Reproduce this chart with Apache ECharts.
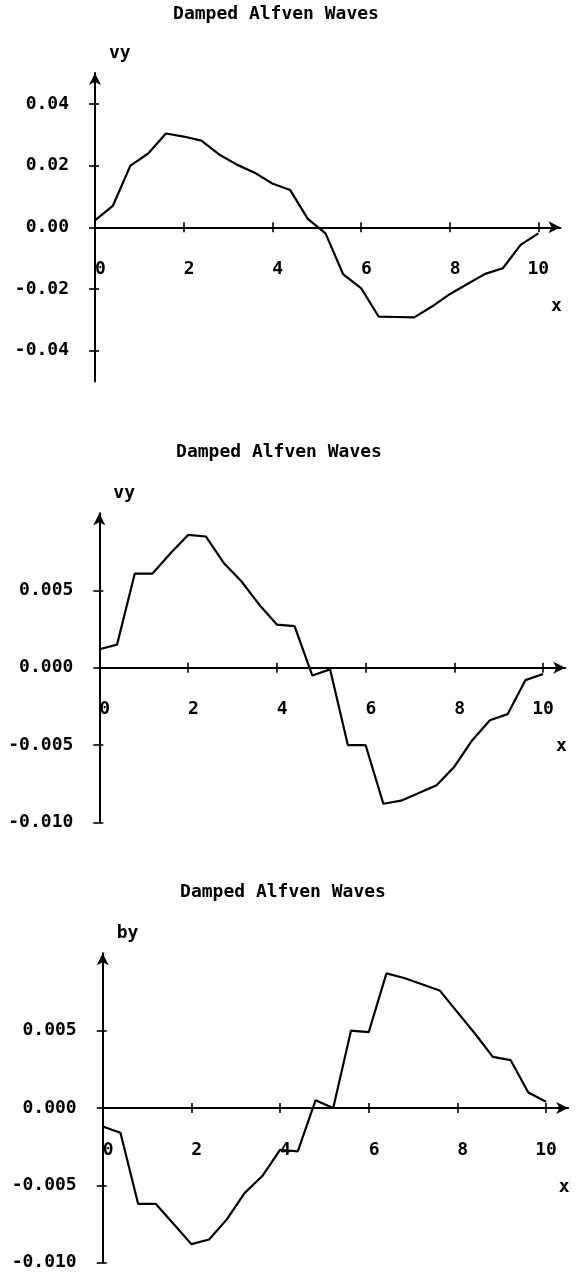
<!DOCTYPE html>
<html>
<head>
<meta charset="utf-8">
<script src="https://cdn.jsdelivr.net/npm/echarts@6/dist/echarts.min.js"></script>
<style>
html,body{margin:0;padding:0;background:#fff;}
#c{width:586px;height:1278px;}
</style>
</head>
<body>
<div id="c"></div>
<script>
// ---- data ----
const titleText = 'Damped Alfven Waves';
const xValues = [0, 0.4, 0.8, 1.2, 1.6, 2.0, 2.4, 2.8, 3.2, 3.6, 4.0, 4.4, 4.8, 5.2, 5.6, 6.0, 6.4, 6.8, 7.2, 7.6, 8.0, 8.4, 8.8, 9.2, 9.6, 10.0];
const vy1 = [0.0022, 0.0069, 0.0200, 0.0239, 0.0304, 0.0294, 0.0281, 0.0236, 0.0203, 0.0177, 0.0142, 0.0121, 0.0027, -0.0020, -0.0153, -0.0197, -0.0290, -0.0291, -0.0292, -0.0257, -0.0217, -0.0184, -0.0151, -0.0133, -0.0057, -0.0020];
const vy2 = [0.0012, 0.0015, 0.0061, 0.0061, 0.0074, 0.0086, 0.0085, 0.0068, 0.0056, 0.0041, 0.0028, 0.0027, -0.0005, -0.0001, -0.0050, -0.0050, -0.0088, -0.0086, -0.0081, -0.0076, -0.0064, -0.0047, -0.0034, -0.0030, -0.0008, -0.0004];
const by3 = [-0.0012, -0.0016, -0.0062, -0.0062, -0.0075, -0.0088, -0.0085, -0.0072, -0.0055, -0.0044, -0.0027, -0.0028, 0.0005, 0.0000, 0.0050, 0.0049, 0.0087, 0.0084, 0.0080, 0.0076, 0.0062, 0.0048, 0.0033, 0.0031, 0.0010, 0.0004];
const xTicks = [0, 2, 4, 6, 8, 10];
const yTicks1 = [-0.04, -0.02, 0, 0.02, 0.04];
const yTicks2 = [-0.010, -0.005, 0, 0.005];
const yTicks3 = [-0.010, -0.005, 0, 0.005];
const yNames = ['vy', 'vy', 'by'];

// ---- chart ----
const FONT = 'DejaVu Sans Mono';
const chart = echarts.init(document.getElementById('c'), null, {renderer: 'canvas'});

function pairs(ys) { return xValues.map((x, i) => [x, ys[i]]); }

const grids = [
  {left: 95, top: 73, width: 465.5, height: 308.5},
  {left: 99.3, top: 513.3, width: 466, height: 309},
  {left: 102.7, top: 953.3, width: 465.5, height: 309.4}
];
const yCfg = [
  {min: -0.05, max: 0.05, ticks: yTicks1, dec: 2},
  {min: -0.01, max: 0.01, ticks: yTicks2, dec: 3},
  {min: -0.01, max: 0.01, ticks: yTicks3, dec: 3}
];
const titleLeft = [276, 279, 283];
const titleTop = [5, 443, 883];
const X_MIN = 0, X_MAX = 10.5;

// x axis sits at y = 0: shift it up from the grid bottom
function zeroOffset(i) {
  const c = yCfg[i];
  return -grids[i].height * (0 - c.min) / (c.max - c.min);
}

const lineSt = {color: '#000', width: 2};
const tickSt = {color: '#000', width: 1.6};
const txt = {fontFamily: FONT, fontSize: 18, fontWeight: 'bold', color: '#000'};

const xMain = grids.map((g, i) => ({
  type: 'value', gridIndex: i, min: X_MIN, max: X_MAX, position: 'bottom', offset: zeroOffset(i),
  name: 'x', nameLocation: 'end', nameGap: -4, nameMoveOverlap: false,
  nameTextStyle: Object.assign({}, txt, {align: 'center', verticalAlign: 'top', padding: [70, 0, 0, 0]}),
  axisLine: {show: true, onZero: false, lineStyle: lineSt, symbol: ['none', 'arrow'], symbolSize: [9, 12]},
  axisTick: {show: true, inside: false, length: 5, lineStyle: tickSt, customValues: xTicks},
  axisLabel: Object.assign({show: true, margin: 33, align: 'center', customValues: xTicks,
    formatter: v => String(v).padStart(2, ' ')}, txt),
  splitLine: {show: false}
}));
const xDup = grids.map((g, i) => ({
  type: 'value', gridIndex: i, min: X_MIN, max: X_MAX, position: 'bottom', offset: zeroOffset(i),
  axisLine: {show: false, onZero: false},
  axisTick: {show: true, inside: true, length: 5, lineStyle: tickSt, customValues: xTicks},
  axisLabel: {show: false}, splitLine: {show: false}
}));
const yMain = grids.map((g, i) => ({
  type: 'value', gridIndex: i, min: yCfg[i].min, max: yCfg[i].max, position: 'left',
  name: yNames[i], nameLocation: 'end', nameGap: 11, nameMoveOverlap: false,
  nameTextStyle: Object.assign({}, txt, {align: 'left', padding: [0, 0, 0, 14]}),
  axisLine: {show: true, onZero: false, lineStyle: lineSt, symbol: ['none', 'arrow'], symbolSize: [9, 12]},
  axisTick: {show: true, inside: false, length: 6, lineStyle: tickSt, customValues: yCfg[i].ticks},
  axisLabel: Object.assign({show: true, margin: 26, customValues: yCfg[i].ticks, formatter: v => Number(v).toFixed(yCfg[i].dec)}, txt),
  splitLine: {show: false}
}));
const yDup = grids.map((g, i) => ({
  type: 'value', gridIndex: i, min: yCfg[i].min, max: yCfg[i].max, position: 'left',
  axisLine: {show: false, onZero: false},
  axisTick: {show: true, inside: true, length: 4, lineStyle: tickSt, customValues: yCfg[i].ticks},
  axisLabel: {show: false}, splitLine: {show: false}
}));

const option = {
  backgroundColor: '#fff',
  animation: false,
  title: titleLeft.map((l, i) => ({
    text: titleText, left: l, top: titleTop[i], padding: 0, textAlign: 'center',
    textStyle: {fontFamily: FONT, fontSize: 18, fontWeight: 'bold', color: '#000'}
  })),
  grid: grids.map(g => Object.assign({outerBoundsMode: 'none', containLabel: false}, g)),
  xAxis: xMain.concat(xDup),
  yAxis: yMain.concat(yDup),
  series: [vy1, vy2, by3].map((ys, i) => ({
    type: 'line', xAxisIndex: i, yAxisIndex: i, data: pairs(ys),
    showSymbol: false, symbol: 'none', smooth: false,
    lineStyle: {color: '#000', width: 2.2}
  }))
};
chart.setOption(option);
</script>
</body>
</html>
